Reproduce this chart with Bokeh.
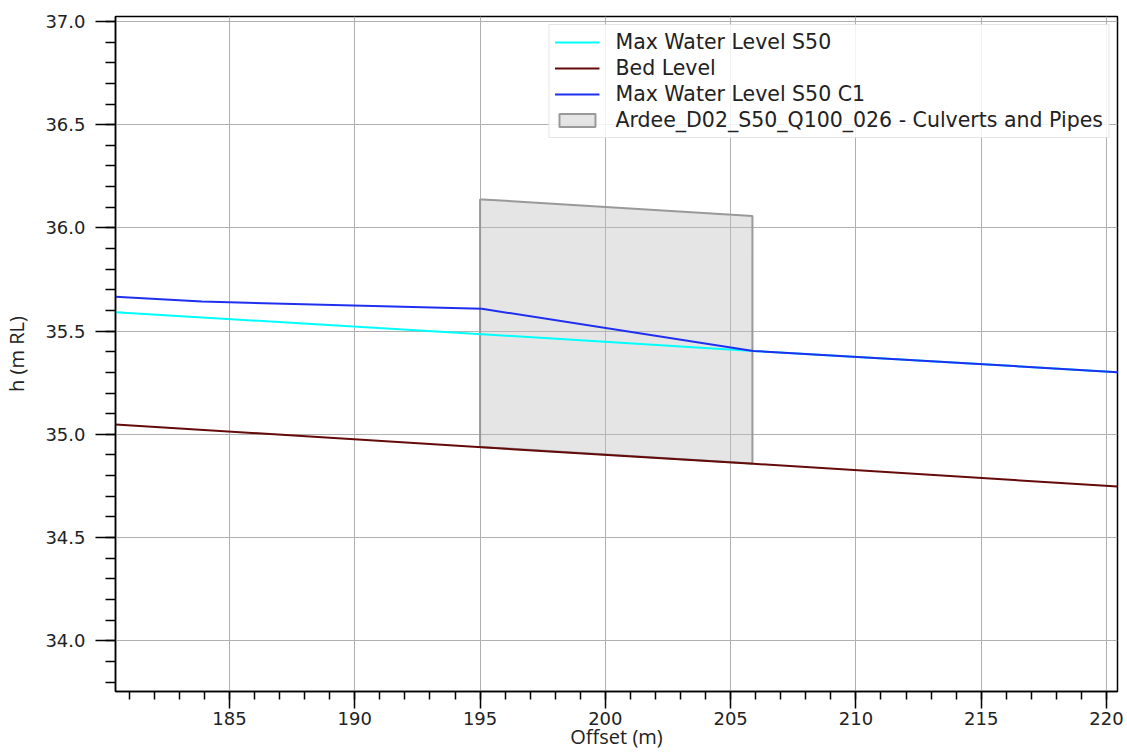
from bokeh.plotting import figure
from bokeh.models import (Legend, LegendItem, SingleIntervalTicker,
                          PrintfTickFormatter, Range1d)
from bokeh.embed import file_html
from bokeh.resources import INLINE

# ---- data ----
offset_s50 = [180.45, 195.07, 205.9, 220.44]
level_s50 = [35.591, 35.485, 35.404, 35.301]

offset_bed = [180.45, 195.07, 205.9, 220.44]
level_bed = [35.048, 34.937, 34.857, 34.747]

offset_c1 = [180.45, 183.9, 195.07, 205.9, 220.44]
level_c1 = [35.666, 35.643, 35.608, 35.404, 35.301]

culvert_x = [195.0, 195.0, 195.1, 205.87, 205.87]
culvert_y = [34.939, 36.138, 36.138, 36.057, 34.859]

x_range = (180.45, 220.44)
y_range = (33.754, 37.024)

names = ["Max Water Level S50", "Bed Level", "Max Water Level S50 C1",
         "Ardee_D02_S50_Q100_026 - Culverts and Pipes"]
x_title = "Offset (m)"
y_title = "h (m RL)"

TICK_FONT = "DejaVu Sans"
LABEL_FONT = "Open Sans"

p = figure(width=1125, height=754, output_backend="svg", toolbar_location=None,
           x_range=Range1d(*x_range), y_range=Range1d(*y_range),
           min_border_left=113, min_border_right=8, min_border_top=16,
           min_border_bottom=63)

p.background_fill_color = "white"
p.border_fill_color = "white"
p.outline_line_color = "black"
p.outline_line_width = 1.5

# culvert polygon (behind lines)
poly = p.patch(culvert_x, culvert_y, fill_color="#bebebe", fill_alpha=0.4,
               line_color="#999999", line_width=2)

l1 = p.line(offset_s50, level_s50, line_color="#00ffff", line_width=2)
l2 = p.line(offset_bed, level_bed, line_color="#650a0a", line_width=2)
l3 = p.line(offset_c1, level_c1, line_color="#1f2ff0", line_width=2)

legend = Legend(items=[LegendItem(label=names[0], renderers=[l1]),
                       LegendItem(label=names[1], renderers=[l2]),
                       LegendItem(label=names[2], renderers=[l3]),
                       LegendItem(label=names[3], renderers=[poly])],
                location="top_right", margin=8, padding=5, spacing=2,
                glyph_width=45, glyph_height=16, label_height=16,
                label_standoff=16,
                label_text_font=TICK_FONT, label_text_font_size="20.5px",
                label_text_color="#222222",
                border_line_color="#cccccc", border_line_width=1,
                background_fill_color="white", background_fill_alpha=0.85)
p.add_layout(legend)

# axes
p.xaxis.ticker = SingleIntervalTicker(interval=5, num_minor_ticks=5)
p.yaxis.ticker = SingleIntervalTicker(interval=0.5, num_minor_ticks=5)
p.xaxis.formatter = PrintfTickFormatter(format="%d")
p.yaxis.formatter = PrintfTickFormatter(format="%.1f")

for ax in (p.xaxis, p.yaxis):
    ax.axis_line_color = "black"
    ax.axis_line_width = 1.5
    ax.major_tick_line_color = "black"
    ax.major_tick_line_width = 1.5
    ax.minor_tick_line_color = "black"
    ax.minor_tick_line_width = 1.5
    ax.major_tick_in = 0
    ax.minor_tick_in = 0
    ax.major_label_text_font = TICK_FONT
    ax.major_label_text_font_size = "18px"
    ax.major_label_text_color = "#222222"
    ax.axis_label_text_font = LABEL_FONT
    ax.axis_label_text_font_style = "normal"
    ax.axis_label_text_font_size = "20px"
    ax.axis_label_text_color = "#222222"

p.xaxis.major_tick_out = 17
p.xaxis.minor_tick_out = 8
p.xaxis.major_label_standoff = 3
p.xaxis.axis_label = x_title
p.xaxis.axis_label_standoff = -5

p.yaxis.major_tick_out = 20
p.yaxis.minor_tick_out = 10
p.yaxis.major_label_standoff = 10
p.yaxis.axis_label = y_title
p.yaxis.axis_label_standoff = 12

p.xgrid.grid_line_color = "#b0b0b0"
p.ygrid.grid_line_color = "#b0b0b0"
p.xgrid.grid_line_width = 1
p.ygrid.grid_line_width = 1

open("out.html", "w").write(file_html(p, INLINE))
